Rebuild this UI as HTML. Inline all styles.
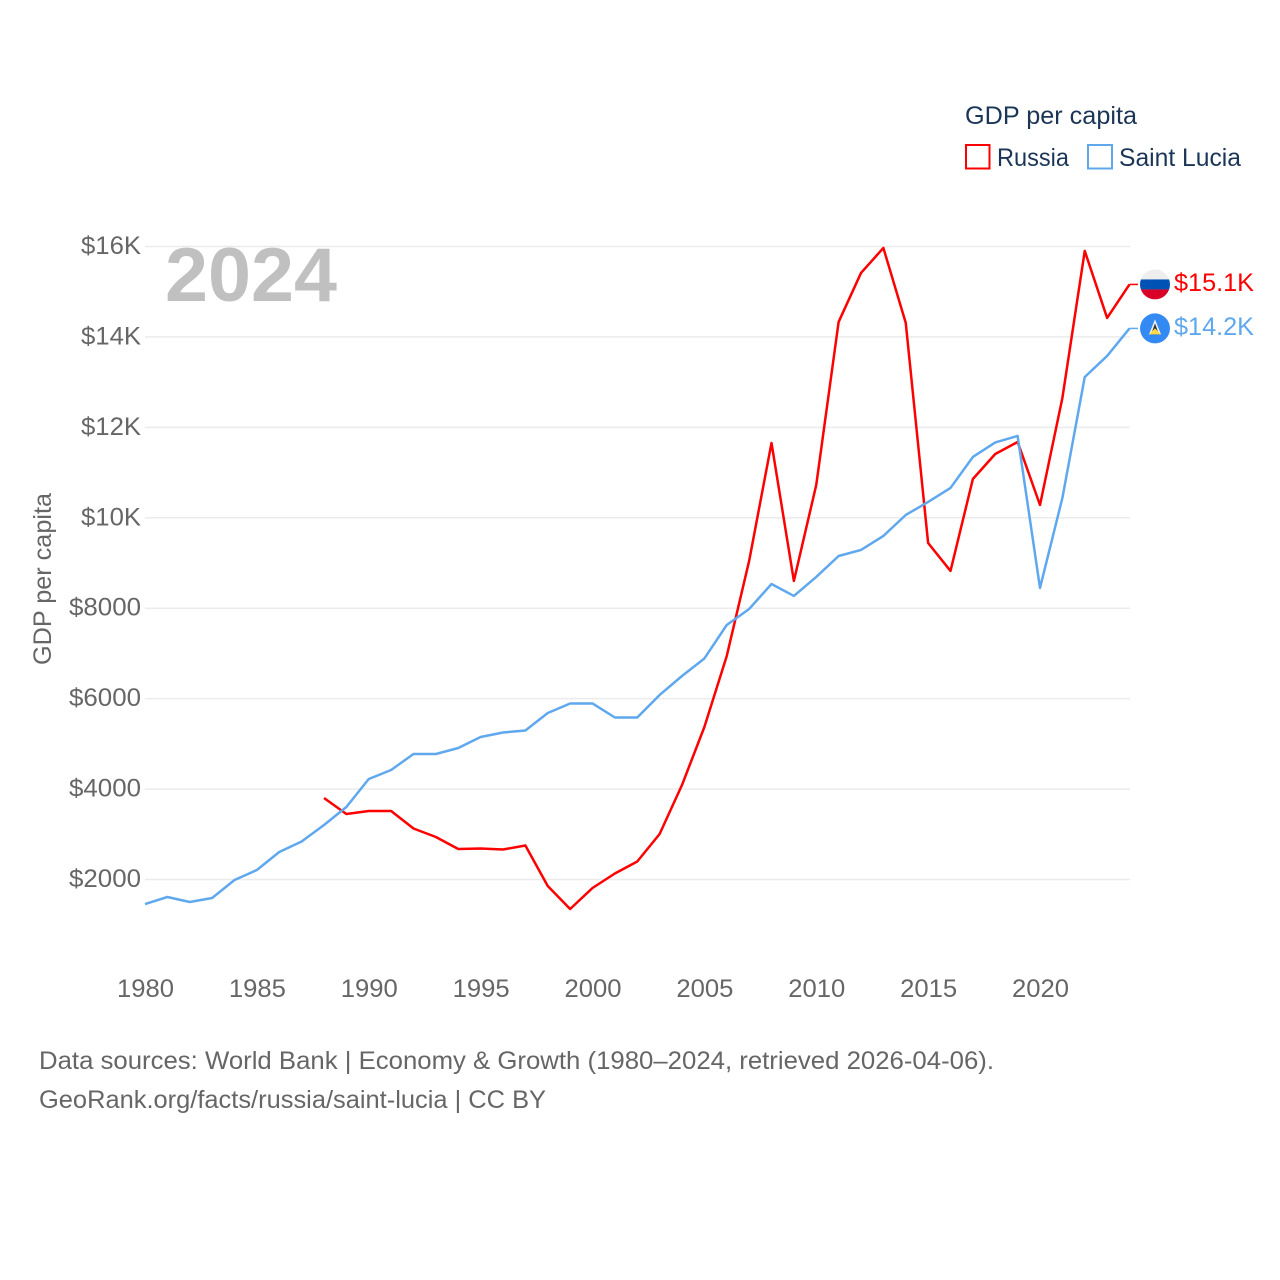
<!DOCTYPE html>
<html lang="en">
<head>
<meta charset="utf-8">
<title>GDP per capita: Russia and Saint Lucia</title>
<style>
html,body{margin:0;padding:0;background:#fff;}
svg{display:block;font-family:"Liberation Sans",sans-serif;}
</style>
</head>
<body>
<svg id="chart" xmlns="http://www.w3.org/2000/svg" width="1280" height="1280" viewBox="0 0 1280 1280">
  <rect width="1280" height="1280" fill="#fff"/>
  <g id="grid"></g>
  <text x="165" y="301" font-size="76" font-weight="700" fill="#c0c0c0" textLength="172" lengthAdjust="spacingAndGlyphs">2024</text>
  <g id="yticks"></g>
  <g id="xticks"></g>
  <text transform="translate(51,665) rotate(-90)" font-size="25" fill="#666" textLength="172" lengthAdjust="spacingAndGlyphs">GDP per capita</text>
  <g id="series"></g>

  <g>
    <text x="965" y="124" font-size="25" fill="#1a3556" textLength="172" lengthAdjust="spacingAndGlyphs">GDP per capita</text>
    <rect x="966" y="145" width="23.5" height="23.5" fill="none" stroke="#ff0000" stroke-width="2"/>
    <text x="997" y="166" font-size="25" fill="#1a3556" textLength="72" lengthAdjust="spacingAndGlyphs">Russia</text>
    <rect x="1088" y="145" width="24" height="23.5" fill="none" stroke="#5fa8ee" stroke-width="2"/>
    <text x="1119" y="166" font-size="25" fill="#1a3556" textLength="122" lengthAdjust="spacingAndGlyphs">Saint Lucia</text>
  </g>

  <defs>
    <clipPath id="flagClip"><circle cx="0" cy="0" r="15"/></clipPath>
  </defs>
  <g id="russiaEnd">
    <g clip-path="url(#flagClip)">
      <rect x="-15" y="-15" width="30" height="10" fill="#eeeeee"/>
      <rect x="-15" y="-5" width="30" height="10" fill="#0052b4"/>
      <rect x="-15" y="5" width="30" height="10" fill="#d80027"/>
    </g>
    <text id="russiaLabel" x="19" y="6.5" font-size="25" fill="#ff0000" textLength="80" lengthAdjust="spacingAndGlyphs"></text>
  </g>
  <g id="luciaEnd">
    <g>
      <circle r="15" fill="#338af3"/>
      <polygon points="0,-9 6,6 -6,6" fill="#f0f0f0"/>
      <polygon points="0,-5 4,6 -4,6" fill="#333"/>
      <polygon points="0,0 6,6 -6,6" fill="#ffda44"/>
    </g>
    <text id="luciaLabel" x="19" y="6.5" font-size="25" fill="#5fa8ee" textLength="80" lengthAdjust="spacingAndGlyphs"></text>
  </g>

  <g>
    <text x="39" y="1069" font-size="25" fill="#666" textLength="955" lengthAdjust="spacingAndGlyphs">Data sources: World Bank | Economy &amp; Growth (1980–2024, retrieved 2026-04-06).</text>
    <text x="39" y="1108" font-size="25" fill="#666" textLength="507" lengthAdjust="spacingAndGlyphs">GeoRank.org/facts/russia/saint-lucia | CC BY</text>
  </g>
</svg>
<script>
const years = [1980,1981,1982,1983,1984,1985,1986,1987,1988,1989,1990,1991,1992,1993,1994,1995,1996,1997,1998,1999,2000,2001,2002,2003,2004,2005,2006,2007,2008,2009,2010,2011,2012,2013,2014,2015,2016,2017,2018,2019,2020,2021,2022,2023,2024];
const russiaValues = [null,null,null,null,null,null,null,null,3803,3449,3515,3515,3128,2940,2675,2686,2664,2752,1856,1347,1812,2133,2398,3006,4090,5373,6944,9045,11655,8603,10726,14332,15415,15968,14310,9443,8824,10858,11411,11677,10283,12650,15902,14420,15161];
const saintLuciaValues = [1458,1613,1502,1591,1989,2210,2608,2840,3205,3604,4223,4422,4776,4776,4908,5152,5251,5296,5683,5893,5893,5583,5583,6081,6501,6888,7629,7983,8536,8271,8691,9155,9288,9598,10062,10350,10660,11345,11666,11810,8448,10438,13114,13579,14188];
const yTickValues = [2000,4000,6000,8000,10000,12000,14000,16000];
const yTickLabels = ["$2000","$4000","$6000","$8000","$10K","$12K","$14K","$16K"];
const xTickValues = [1980,1985,1990,1995,2000,2005,2010,2015,2020];
const russiaEndLabel = "$15.1K";
const saintLuciaEndLabel = "$14.2K";

const NS = "http://www.w3.org/2000/svg";
function xScale(year){ return 145 + (year - 1980) * 22.375; }
function yScale(value){ return 879.5 - (value - 2000) * (879.5 - 246.5) / 14000; }
function make(tag, attrs, parent){
  const el = document.createElementNS(NS, tag);
  for (const k in attrs) el.setAttribute(k, attrs[k]);
  parent.appendChild(el);
  return el;
}

const grid = document.getElementById('grid');
const yG = document.getElementById('yticks');
yTickValues.forEach(function(v, i){
  const line = make('line', {x1:145, x2:1130, y1:yScale(v), y2:yScale(v), stroke:'#ebebeb', 'stroke-width':1.5}, grid);
  
  
  const t = make('text', {x:141, y:yScale(v)+7.5, 'font-size':25, fill:'#666', 'text-anchor':'end',
    textLength: yTickLabels[i].length === 5 ? 72 : 60, lengthAdjust:'spacingAndGlyphs'}, yG);
  
  
  t.textContent = yTickLabels[i];
});

const xG = document.getElementById('xticks');
xTickValues.forEach(function(v){
  const t = make('text', {x:xScale(v)+0.5, y:997, 'font-size':25, fill:'#666', 'text-anchor':'middle',
    textLength:57, lengthAdjust:'spacingAndGlyphs'}, xG);
  
  
  t.textContent = v;
});

function drawSeries(values, color, name){
  const g = document.getElementById('series');
  let d = '', lastX = 0, lastY = 0;
  values.forEach(function(v, i){
    if (v === null) return;
    lastX = xScale(years[i]);
    lastY = yScale(v);
    d += (d ? 'L' : 'M') + lastX.toFixed(2) + ' ' + lastY.toFixed(2);
  });
  const path = make('path', {d:d, fill:'none', stroke:color, 'stroke-width':2.5, 'stroke-linejoin':'round'}, g);
  
  
  const conn = make('line', {x1:lastX, x2:lastX+8.5, y1:lastY, y2:lastY, stroke:color, 'stroke-width':1.5}, g);
  
  
  return lastY;
}
const ry = drawSeries(russiaValues, '#ff0000', 'russia-line');
const ly = drawSeries(saintLuciaValues, '#5fa8ee', 'saint-lucia-line');
document.getElementById('russiaEnd').setAttribute('transform', 'translate(1155,' + ry + ')');
document.getElementById('luciaEnd').setAttribute('transform', 'translate(1155,' + ly + ')');
document.getElementById('russiaLabel').textContent = russiaEndLabel;
document.getElementById('luciaLabel').textContent = saintLuciaEndLabel;
</script>
</body>
</html>
